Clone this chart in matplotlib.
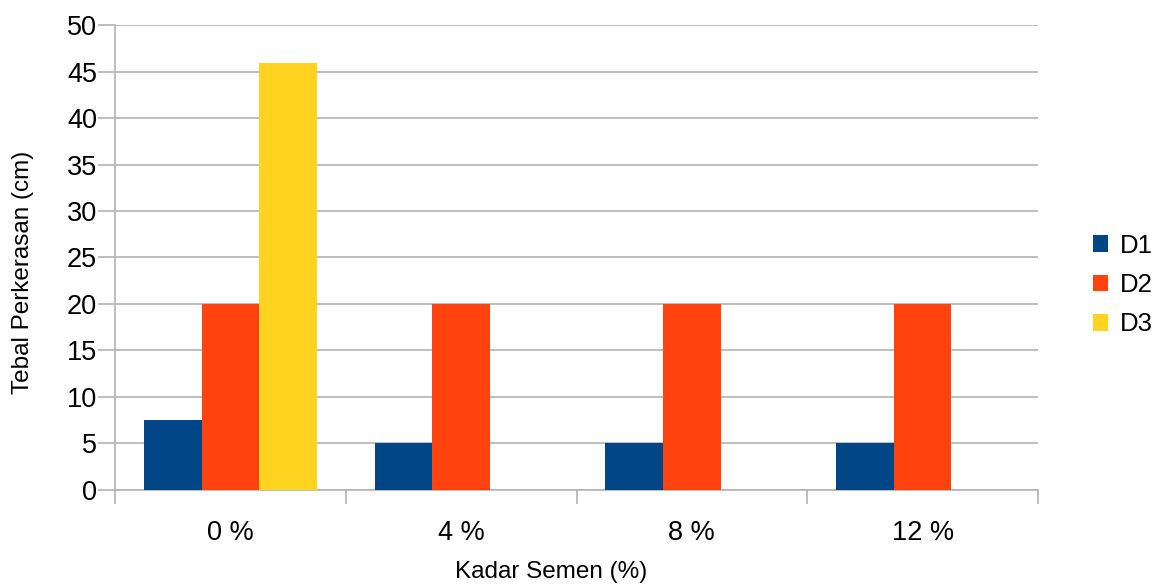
import numpy as np
import matplotlib.pyplot as plt
from matplotlib.patches import Patch

plt.rcParams['font.family'] = ['Liberation Sans', 'DejaVu Sans']

categories = ["0 %", "4 %", "8 %", "12 %"]
d1 = [7.5, 5, 5, 5]
d2 = [20, 20, 20, 20]
d3 = [45.9, 0, 0, 0]
series_names = ["D1", "D2", "D3"]
colors = ["#004586", "#ff420e", "#ffd320"]

fig = plt.figure(figsize=(11.54, 5.84), dpi=100)
ax = fig.add_axes([115 / 1154, 1 - 489.5 / 584, (1038 - 115) / 1154, (489.5 - 25.3) / 584])

x = np.arange(len(categories))
w = 0.25
for i, (vals, c) in enumerate(zip([d1, d2, d3], colors)):
    ax.bar(x + (i - 1) * w, vals, width=w, color=c, zorder=3)

ax.set_xlim(-0.5, len(categories) - 0.5)
ax.set_ylim(0, 50)
ax.set_yticks(np.arange(0, 51, 5))
ax.yaxis.grid(True, color="#b3b3b3", linewidth=1.2, zorder=0)

ax.set_xticks(x)
ax.set_xticklabels(categories, fontsize=19.5)
ax.set_xticks(np.arange(-0.5, len(categories)), minor=True)
ax.tick_params(axis="x", which="major", length=0, pad=22)
ax.tick_params(axis="x", which="minor", length=10, color="#b3b3b3", width=1.2)
ax.tick_params(axis="y", length=12, color="#b3b3b3", width=1.2, labelsize=19.5, pad=1)

for s in ["top", "right"]:
    ax.spines[s].set_visible(False)
for s in ["left", "bottom"]:
    ax.spines[s].set_color("#b3b3b3")
    ax.spines[s].set_linewidth(1.2)

fig.text(551 / 1154, 1 - 578 / 584, "Kadar Semen (%)", ha="center", va="baseline", fontsize=17.5)
fig.text(23 / 1154, 1 - 272 / 584, "Tebal Perkerasan (cm)", ha="center", va="center",
         rotation=90, fontsize=17.5)

handles = [Patch(facecolor=c, label=n) for c, n in zip(colors, series_names)]
fig.legend(handles=handles, loc="center left", bbox_to_anchor=(1093 / 1154, 1 - 285 / 584),
           frameon=False, fontsize=18.5, handlelength=0.6, handleheight=0.6,
           handletextpad=0.45, labelspacing=0.6, borderpad=0, borderaxespad=0)

fig.savefig("out.png", dpi=100)
